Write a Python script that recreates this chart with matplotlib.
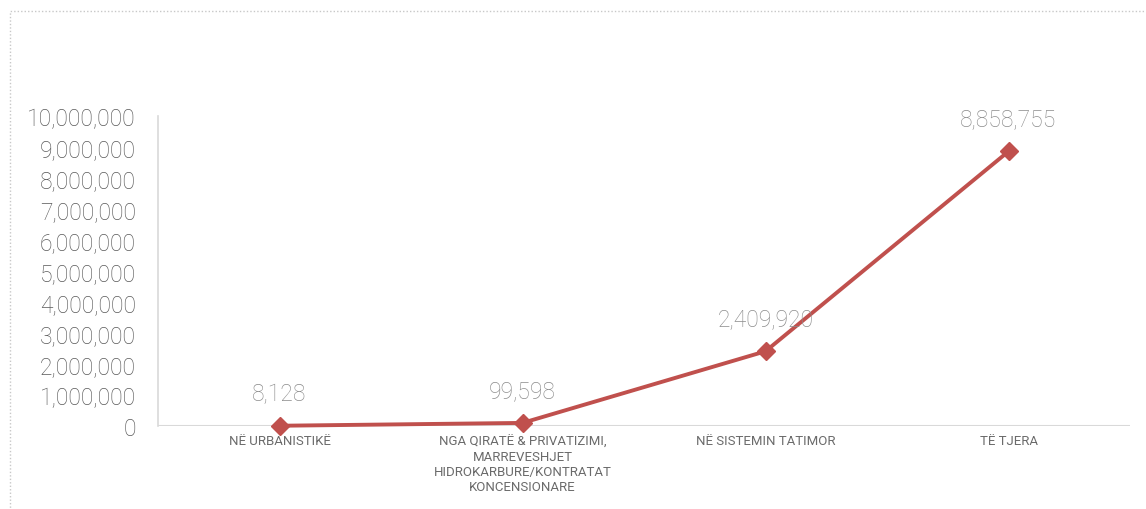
import matplotlib
matplotlib.use("Agg")
import matplotlib.pyplot as plt
from matplotlib.patches import Rectangle
from matplotlib.ticker import FuncFormatter

categories = ["NË URBANISTIKË",
              "NGA QIRATË & PRIVATIZIMI,\nMARREVESHJET\nHIDROKARBURE/KONTRATAT\nKONCENSIONARE",
              "NË SISTEMIN TATIMOR",
              "TË TJERA"]
values = [8128, 99598, 2409920, 8858755]
yticks = list(range(0, 10000001, 1000000))

W, H = 1146, 510
fig = plt.figure(figsize=(W / 100, H / 100), dpi=100)
plt.rcParams['font.family'] = ['Roboto', 'DejaVu Sans']

ax = fig.add_axes([158 / W, 1 - 427 / H, (1130 - 158) / W, (427 - 117) / H])

x = list(range(len(categories)))
ax.plot(x, values, color="#C0504D", lw=2.8, marker="D", markersize=9.5, zorder=3, clip_on=False)

for xi, v in zip(x, values):
    ax.annotate(f"{v:,}", (xi, v), xytext=(0, 15), textcoords="offset points",
                ha="center", va="bottom", fontsize=16.5, color="#8c8c8c", fontweight="light")

ax.set_xlim(-0.5, 3.5)
ax.set_ylim(0, 10000000)
ax.set_yticks(yticks)
ax.yaxis.set_major_formatter(FuncFormatter(lambda v, p: f"{int(v):,}"))
ax.set_xticks(x)
ax.set_xticklabels(categories, fontsize=9.5, color="#6b6b6b", linespacing=1.2)

for s in ["top", "right", "bottom"]:
    ax.spines[s].set_visible(False)
ax.spines["left"].set_color("#d9d9d9")
ax.spines["left"].set_linewidth(1.2)
ax.axhline(0, color="#d9d9d9", lw=1.5, zorder=1)
ax.tick_params(axis="y", length=0, pad=16, labelsize=16.5, labelcolor="#595959")
ax.tick_params(axis="x", length=0, pad=6)
for lab in ax.get_yticklabels():
    lab.set_fontweight("light")

fig.patches.append(Rectangle((10 / W, -0.1), 1.2, 1 - 12 / H + 0.1, transform=fig.transFigure,
                             fill=False, edgecolor="#c8c8c8", lw=1, linestyle=(0, (1, 1.5))))

fig.savefig("out.png", dpi=100)
